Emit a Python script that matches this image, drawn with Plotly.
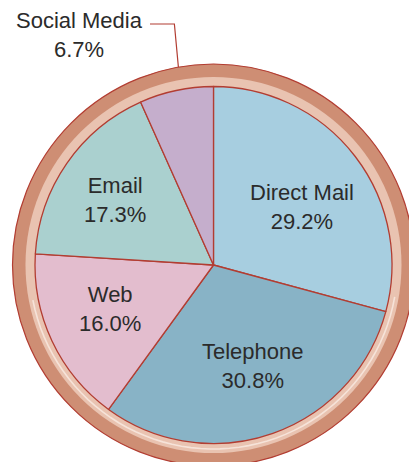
import math
import plotly.graph_objects as go

# Share of responses by contact channel (clockwise from 12 o'clock)
channels = ["Direct Mail", "Telephone", "Web", "Email", "Social Media"]
shares = [29.2, 30.8, 16.0, 17.3, 6.7]
slice_colors = ["#A7CEE0", "#88B3C6", "#E3BDCE", "#AAD0CF", "#C5AECC"]

# Label placement: radius as fraction of pie radius, and angular nudge (deg)
label_radius = [0.595, 0.61, 0.63, 0.66, None]
label_nudge = [4.2, -1.8, 2.2, -1.3, 0.0]

W, H = 409, 462
CX, CY = 213.5, 265.0          # pie centre in pixels
R_PIE = 178.5                  # data pie radius
R_LIGHT = 188.0                # pale inner band
R_OUTER = 201.0                # dark outer band

EDGE = "#B23D32"
TEXT = "#2B2B2B"
FONT = "Liberation Sans, Arial, sans-serif"
FONT_SIZE = 22


def px(x):
    return x / W


def py(y):
    return 1 - y / H


def polar_px(angle_deg, r):
    a = math.radians(angle_deg)
    return CX + r * math.sin(a), CY - r * math.cos(a)


fig = go.Figure()

fig.add_trace(go.Pie(
    labels=channels,
    values=shares,
    sort=False,
    direction="clockwise",
    rotation=0,
    marker=dict(colors=slice_colors, line=dict(color=EDGE, width=1.3)),
    textinfo="none",
    hoverinfo="label+percent",
    showlegend=False,
    domain=dict(x=[px(CX - R_PIE), px(CX + R_PIE)],
                y=[py(CY + R_PIE), py(CY - R_PIE)]),
))

shapes = [
    # dark outer band
    dict(type="circle", xref="paper", yref="paper", layer="below",
         x0=px(CX - R_OUTER), x1=px(CX + R_OUTER),
         y0=py(CY + R_OUTER), y1=py(CY - R_OUTER),
         fillcolor="#CE8E74", line=dict(color=EDGE, width=1.2)),
    # pale inner band
    dict(type="circle", xref="paper", yref="paper", layer="below",
         x0=px(CX - R_LIGHT), x1=px(CX + R_LIGHT),
         y0=py(CY + R_LIGHT), y1=py(CY - R_LIGHT),
         fillcolor="#E9C3B1", line=dict(width=0)),
]

# faint highlight arc along the lower part of the pale band
arc_r = 184.0
pts = [polar_px(a, arc_r) for a in range(100, 261, 3)]
path = "M " + " L ".join(f"{px(x):.5f},{py(y):.5f}" for x, y in pts)
shapes.append(dict(type="path", xref="paper", yref="paper", layer="below",
                   path=path, line=dict(color="#F6E3D9", width=1.6)))

# cumulative angles -> label anchors
annotations = []
cum = 0.0
total = sum(shares)
mids = []
for v in shares:
    mids.append((cum + v / 2) / total * 360)
    cum += v

for name, v, mid, rf, nudge in zip(channels, shares, mids, label_radius, label_nudge):
    if rf is None:
        continue
    x, y = polar_px(mid + nudge, rf * R_PIE)
    annotations.append(dict(
        x=px(x), y=py(y), xref="paper", yref="paper",
        text=f"{name}<br>{v:.1f}%", showarrow=False,
        xanchor="center", yanchor="middle", align="center",
        font=dict(family=FONT, size=FONT_SIZE, color=TEXT)))

# Social Media: outside label with elbow leader to the rim
sm_mid = mids[-1]
rim_x, rim_y = polar_px(sm_mid + 2.0, R_OUTER)
elbow_x, elbow_y = rim_x - 4, 24.0
text_end_x = 150.0
shapes.append(dict(type="path", xref="paper", yref="paper", layer="above",
                   path=(f"M {px(text_end_x):.5f},{py(elbow_y):.5f} "
                         f"L {px(elbow_x):.5f},{py(elbow_y):.5f} "
                         f"L {px(rim_x):.5f},{py(rim_y):.5f}"),
                   line=dict(color=EDGE, width=1.2)))
annotations.append(dict(
    x=px(79.5), y=py(35), xref="paper", yref="paper",
    text=f"{channels[-1]}<br>{shares[-1]:.1f}%", showarrow=False,
    xanchor="center", yanchor="middle", align="center",
    font=dict(family=FONT, size=FONT_SIZE, color=TEXT)))

fig.update_layout(
    width=W, height=H,
    margin=dict(l=0, r=0, t=0, b=0),
    paper_bgcolor="white",
    plot_bgcolor="white",
    shapes=shapes,
    annotations=annotations,
    showlegend=False,
)

fig.write_html("out.html")
